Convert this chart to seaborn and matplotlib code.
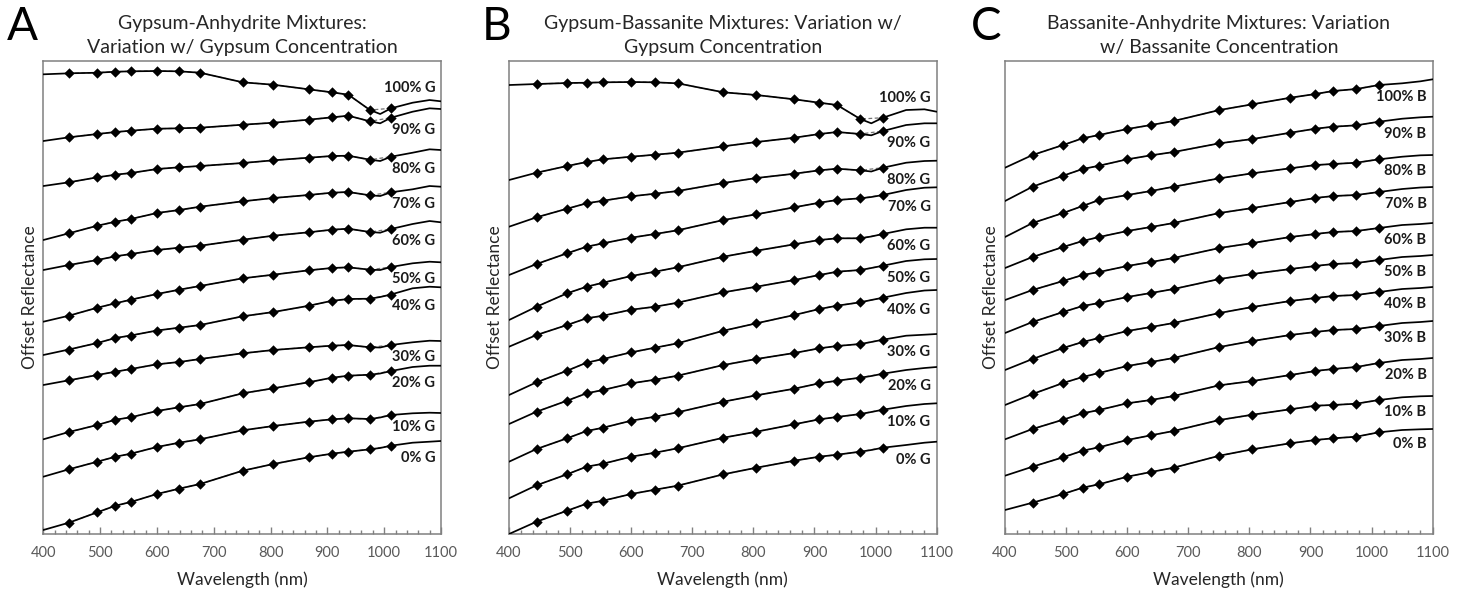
import matplotlib
matplotlib.use("Agg")
import matplotlib.pyplot as plt
import pandas as pd
import seaborn as sns
from matplotlib.ticker import MultipleLocator

# ---------------- data ----------------
# spectrum sample wavelengths (nm)
WL_AB = [400, 445, 495, 527, 554, 600, 639, 676, 751, 805, 867, 908, 937, 975, 993, 1012, 1050, 1080, 1100]
WL_C = [400, 445, 495, 527, 554, 600, 639, 676, 751, 805, 867, 908, 937, 975, 1012, 1050, 1080, 1100]
# wavelengths of the multispectral (marker) bands
MARKER_WL = [445, 495, 527, 554, 600, 639, 676, 751, 805, 867, 908, 937, 975, 1012]

LABELS_G = ["100% G", "90% G", "80% G", "70% G", "60% G", "50% G", "40% G", "30% G", "20% G", "10% G", "0% G"]
LABELS_B = ["100% B", "90% B", "80% B", "70% B", "60% B", "50% B", "40% B", "30% B", "20% B", "10% B", "0% B"]

# Panel A: gypsum-anhydrite (offset reflectance, arbitrary units)
ga_100 = [459.7, 460.7, 461.3, 462.3, 462.7, 463, 462.7, 461.3, 451.7, 449.3, 444.7, 441.7, 439.3, 424, 420, 425.7, 431.3, 434, 432.7]
ga_90 = [393, 396.7, 400, 402, 403.3, 405.3, 405.7, 406.3, 409.3, 411.3, 414.3, 416.7, 418.3, 412.7, 410.7, 416.3, 422.3, 425.7, 425]
ga_80 = [348, 351.7, 356.7, 359.3, 361, 365, 366.7, 368, 371, 373.7, 376.3, 378, 378.3, 374.3, 373, 377.3, 381.3, 384.7, 384]
ga_70 = [294, 300.7, 308.3, 312.3, 315, 321, 324, 327.3, 332.7, 336, 339, 341.3, 342, 338.7, 338, 341.7, 344.7, 348, 347.3]
ga_60 = [264, 269, 274, 277.7, 280, 284, 286.3, 288.3, 294.3, 298.3, 301.7, 304.3, 305.3, 302, 301.3, 305, 310, 313, 311.7]
ga_50 = [212.3, 218.3, 226.3, 230.7, 234.3, 240, 244.3, 248, 255.7, 259.3, 263.7, 266, 266.7, 264.3, 264, 267, 270.7, 272.3, 271.7]
ga_40 = [179, 184.5, 191, 196, 198.5, 203.5, 206.3, 209, 217.7, 222, 228.2, 233.2, 235, 235.3, 237, 239.5, 245.7, 247.3, 246.7]
ga_30 = [149, 153.7, 159, 162.3, 165, 169.7, 172, 175, 180.7, 184, 186.7, 188.3, 189, 186.7, 186.5, 189, 191.7, 193.3, 193]
ga_20 = [94.7, 102, 109, 114.3, 116.7, 123, 126.7, 130, 140.7, 145.7, 151.7, 156.3, 158.3, 159.3, 160.5, 163, 167, 168.3, 168.3]
ga_10 = [57.3, 64.7, 72.3, 77.3, 80.3, 87, 91.3, 94.7, 103.7, 108, 112.3, 114.7, 115.7, 115, 116.5, 119, 120.7, 121.3, 121]
ga_0 = [4, 11.3, 21.7, 28.3, 32, 40, 45.3, 50, 63.3, 70, 76.7, 80.3, 82.3, 84.7, 86, 88.3, 91.3, 92.3, 93]

# Panel B: gypsum-bassanite
gb_100 = [449, 450, 451, 451.3, 451.7, 452, 451.7, 450.7, 441.7, 439, 434.7, 431.3, 429, 415, 410.7, 416.3, 424, 424.7, 422.3]
gb_90 = [354, 361.3, 368, 372, 374.7, 377.3, 379.3, 381.3, 387.7, 392, 396.3, 400, 402, 400, 398.7, 403, 409, 410.7, 410.7]
gb_80 = [307.3, 316.7, 325.3, 330.7, 333.3, 337.7, 340.3, 343, 351, 356, 360.3, 363.7, 365.3, 363.7, 362.5, 366.3, 371.3, 373, 373.3]
gb_70 = [259, 270, 280.7, 287.3, 290.7, 296.3, 300, 303.7, 314, 319.7, 326.7, 331.3, 334, 335.7, 337, 339, 344, 346.3, 346.7]
gb_60 = [214, 227.3, 240.7, 247.3, 251.3, 258, 262.3, 266.7, 277.3, 283.3, 289.7, 294, 295.7, 295.7, 297.5, 300, 304.7, 306.3, 306.3]
gb_50 = [187.3, 199, 209, 215.7, 218.3, 224.3, 227.3, 231.3, 241.7, 247.3, 254, 259, 262.3, 264, 266, 268.3, 273, 274.7, 275]
gb_40 = [139, 151.7, 163.3, 171.3, 175, 181.7, 186.3, 190.7, 203.3, 210.7, 219, 225, 228.3, 231.7, 234, 236.3, 241, 243.5, 244]
gb_30 = [110, 122.3, 133.3, 140.7, 144, 150.7, 154.3, 158.3, 169, 175, 181, 185.7, 188, 190, 192, 194.3, 198.3, 199.3, 200]
gb_20 = [72.3, 85, 95.7, 103, 106.3, 113.3, 117.3, 121.7, 132.3, 138.7, 145.3, 150.7, 153.3, 156.3, 158, 160.3, 164, 166, 167]
gb_10 = [35.7, 48.7, 59.7, 67.3, 70.3, 77.3, 81.3, 85.7, 96.3, 102.3, 109.7, 114.7, 117, 120, 122, 124.3, 128, 130, 130.7]
gb_0 = [0, 12.3, 23.3, 30.3, 33.3, 40, 44.3, 48.3, 59.7, 66.3, 73.3, 77.3, 79.3, 82.3, 84, 86.3, 89, 91.3, 92.3]

# Panel C: bassanite-anhydrite
cb_100 = [366.3, 379, 389, 395.7, 399, 405, 409, 413, 424, 429.7, 436.3, 440, 443, 445, 449, 450.7, 452.7, 454.7]
cb_90 = [333, 347.3, 358.3, 365, 368.3, 374.7, 378.7, 382, 390.7, 395, 401.3, 405.3, 407.3, 408.7, 412.3, 415.3, 416.7, 417.3]
cb_80 = [297, 311, 321, 328, 334, 339, 343, 347.3, 355.7, 360.7, 365.7, 369, 370, 371.3, 374.7, 377.3, 378.7, 379]
cb_70 = [266, 277, 287, 293, 297, 303, 307, 311, 321, 326, 332, 336, 338, 339, 342, 345, 346.5, 347]
cb_60 = [234, 244, 253, 259, 262, 268, 272, 276, 286, 291, 297, 300, 302, 303, 306, 309, 310, 311]
cb_50 = [201, 212, 222, 228, 231, 237, 241, 245, 255, 260, 265, 268, 270, 271, 274, 277, 278, 279]
cb_40 = [164, 175, 186, 192, 196, 203, 207, 211, 221, 227, 233, 236, 238, 239, 242, 245, 246, 247]
cb_30 = [129, 140, 151, 157, 161, 168, 172, 176, 187, 193, 199, 202, 204, 205, 208, 211, 212, 213]
cb_20 = [94.7, 105, 114.3, 120.7, 124, 130.7, 134, 138, 148.7, 153, 159, 163, 165, 167, 171, 174, 175, 176]
cb_10 = [58.3, 67.3, 76.7, 83.3, 86.7, 94, 98.7, 103, 114, 119.3, 124.7, 128.3, 129, 130.3, 134, 136.7, 137.7, 138]
cb_0 = [24, 31.3, 40, 46.3, 49.7, 57.3, 62, 66.3, 78.3, 84.7, 90.7, 94, 95.7, 97.3, 101.7, 104, 104.7, 105]

ROWS_A = [ga_100, ga_90, ga_80, ga_70, ga_60, ga_50, ga_40, ga_30, ga_20, ga_10, ga_0]
ROWS_B = [gb_100, gb_90, gb_80, gb_70, gb_60, gb_50, gb_40, gb_30, gb_20, gb_10, gb_0]
ROWS_C = [cb_100, cb_90, cb_80, cb_70, cb_60, cb_50, cb_40, cb_30, cb_20, cb_10, cb_0]

TITLE_A = "Gypsum-Anhydrite Mixtures:\nVariation w/ Gypsum Concentration"
TITLE_B = "Gypsum-Bassanite Mixtures: Variation w/\nGypsum Concentration"
TITLE_C = "Bassanite-Anhydrite Mixtures: Variation\nw/ Bassanite Concentration"

# ---------------- style ----------------
sns.set_theme(style="white")
plt.rcParams['font.family'] = ['Lato', 'DejaVu Sans']
TEXT_DARK = "#262626"
TICK_GREY = "#595959"
FRAME = "#808080"

fig = plt.figure(figsize=(14.64, 5.93), dpi=100)
ax_a = fig.add_axes([0.0296, 0.0995, 0.2716, 0.7976])
ax_b = fig.add_axes([0.3477, 0.0995, 0.2921, 0.7976])
ax_c = fig.add_axes([0.6865, 0.0995, 0.2921, 0.7976])


def draw_panel(ax, wl, rows, labels, title, top_label_above):
    for i, (lab, vals) in enumerate(zip(labels, rows)):
        df = pd.DataFrame({"wl": wl, "r": vals})
        mk = df[df["wl"].isin(MARKER_WL)]
        sns.lineplot(data=mk, x="wl", y="r", ax=ax, color="0.45", lw=0.9,
                     linestyle=(0, (3, 2)), estimator=None, sort=False, zorder=2)
        sns.lineplot(data=df, x="wl", y="r", ax=ax, color="black", lw=1.25,
                     estimator=None, sort=False, zorder=3)
        sns.scatterplot(data=mk, x="wl", y="r", ax=ax, marker="D", s=28,
                        color="black", edgecolor="black", linewidth=0, zorder=4)
        y_end = df.loc[df["wl"] == 1012, "r"].iloc[0]
        dy = 14.5 if (i == 0 and top_label_above) else -8.5
        ax.annotate(lab, xy=(1090, y_end), xytext=(0, dy), textcoords="offset points",
                    ha="right", va="center", fontsize=10.5, fontweight="bold",
                    color="#1a1a1a", zorder=5)
    ax.set_xlim(400, 1100)
    ax.set_ylim(0, 473)
    ax.xaxis.set_major_locator(MultipleLocator(100))
    ax.xaxis.set_minor_locator(MultipleLocator(20))
    ax.tick_params(axis="x", which="both", direction="in", bottom=True, top=False,
                   labelsize=10.5, labelcolor=TICK_GREY, color=FRAME, pad=9)
    ax.tick_params(axis="x", which="major", length=5, width=1)
    ax.tick_params(axis="x", which="minor", length=3, width=1)
    ax.set_yticks([])
    for sp in ax.spines.values():
        sp.set_color(FRAME)
        sp.set_linewidth(1.1)
    ax.set_xlabel("Wavelength (nm)", fontsize=12.5, color=TEXT_DARK, labelpad=8)
    ax.set_ylabel("Offset Reflectance", fontsize=12.5, color=TEXT_DARK, labelpad=4)
    ax.set_title(title, fontsize=14, color=TEXT_DARK, pad=6, linespacing=1.5)


draw_panel(ax_a, WL_AB, ROWS_A, LABELS_G, TITLE_A, True)
draw_panel(ax_b, WL_AB, ROWS_B, LABELS_G, TITLE_B, True)
draw_panel(ax_c, WL_C, ROWS_C, LABELS_B, TITLE_C, False)

for letter, xpos in zip(["A", "B", "C"], [0.0045, 0.329, 0.663]):
    fig.text(xpos, 0.99, letter, fontsize=33, color="black", ha="left", va="top")

fig.savefig("out.png", dpi=100)
